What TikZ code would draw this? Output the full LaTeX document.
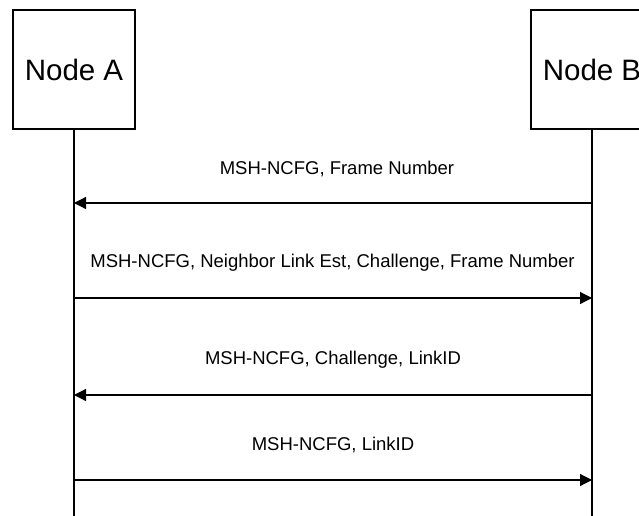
\documentclass[tikz,border=0pt]{standalone}
\usepackage{fontspec}
\setmainfont{Liberation Sans}
\usetikzlibrary{arrows.meta}

\begin{document}
\begin{tikzpicture}[
  x=1pt,
  y=-1pt,
  line width=1.2pt,
  actor/.style={draw, minimum width=122pt, minimum height=119pt,
    inner sep=0pt, font=\fontsize{29.5}{34}\selectfont},
  msg/.style={-{Triangle[length=12pt,width=12pt]}},
  msglabel/.style={font=\fontsize{18.5}{22}\selectfont, inner sep=0pt}
]
  \useasboundingbox (0,0) rectangle (639,516);

  \node[actor] (A) at (74,69.5) {Node A};
  \node[actor] (B) at (592,69.5) {Node B};

  % lifelines
  \coordinate (Aend) at (74,516);
  \coordinate (Bend) at (592,516);
  \draw (A.south) -- (Aend);
  \draw (B.south) -- (Bend);

  % message ends on the lifelines
  \coordinate (A1) at (74,203);
  \coordinate (B1) at (592,203);
  \coordinate (A2) at (74,298);
  \coordinate (B2) at (592,298);
  \coordinate (A3) at (74,395);
  \coordinate (B3) at (592,395);
  \coordinate (A4) at (74,480);
  \coordinate (B4) at (592,480);

  \draw[msg] (B1) -- (A1);
  \draw[msg] (A2) -- (B2);
  \draw[msg] (B3) -- (A3);
  \draw[msg] (A4) -- (B4);

  \node[msglabel] (l1) at (337,168.5) {MSH-NCFG, Frame Number};
  \node[msglabel] (l2) at (332.5,263) {MSH-NCFG, Neighbor Link Est, Challenge, Frame Number};
  \node[msglabel] (l3) at (333,359.5) {MSH-NCFG, Challenge, LinkID};
  \node[msglabel] (l4) at (333,444.5) {MSH-NCFG, LinkID};
\end{tikzpicture}
\end{document}
